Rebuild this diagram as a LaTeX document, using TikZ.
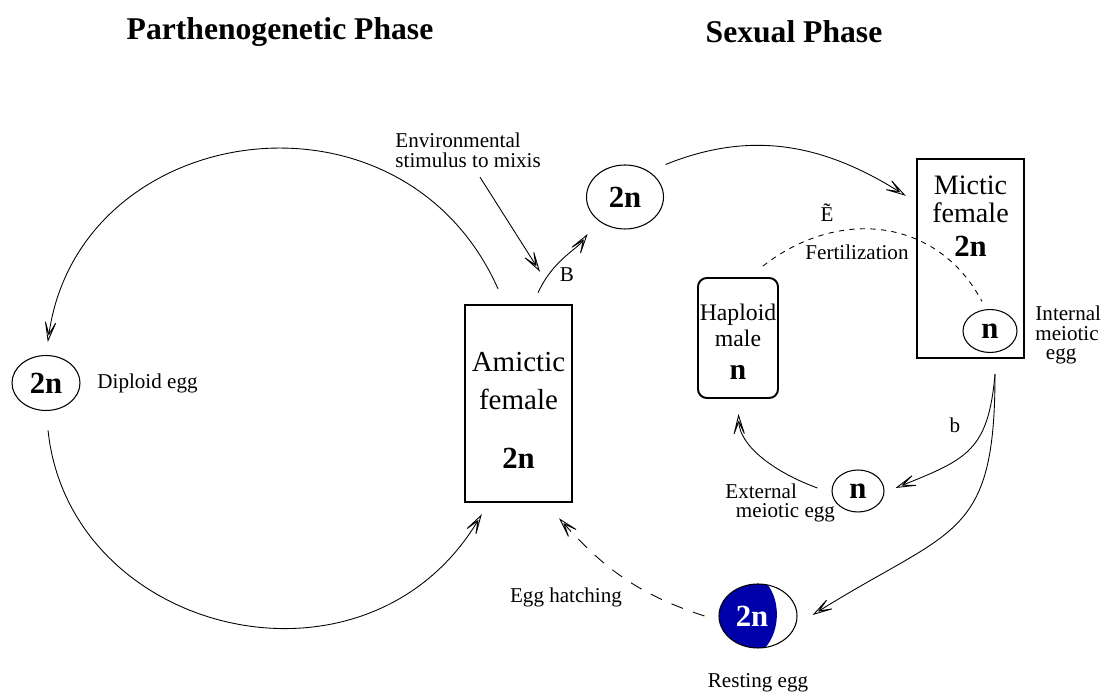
\documentclass[tikz,border=0pt]{standalone}
\usepackage{fontspec}
\setmainfont{Liberation Serif}
\usepackage{tikz}
\usetikzlibrary{arrows.meta,shapes.geometric}
\definecolor{eggblue}{RGB}{0,0,170}

\begin{document}
\begin{tikzpicture}[
		box style/.style={
			draw,
			line width=1.4pt,
			minimum width=2.14cm,
			minimum height=3.94cm,
			inner sep=0pt
		},
		egg style/.style={
			draw,
			ellipse,
			line width=0.6pt,
			inner sep=1pt,
			font=\fontsize{17.5}{20}\selectfont\bfseries
		},
		label style/.style={
			inner sep=0pt,
			align=left,
			font=\fontsize{12}{11.2}\selectfont
		},
		title style/.style={
			inner sep=0pt,
			font=\fontsize{18}{20}\selectfont\bfseries
		},
		>={Stealth[open,length=15pt,width=8.5pt,inset=10pt]},
		line width=0.5pt
		]

	\useasboundingbox (0,0) rectangle (22.04,13.86);

	\node[title style] (titlepart) at (5.60,13.22) {Parthenogenetic Phase};
	\node[title style] (titlesex) at (15.88,13.22) {Sexual Phase};

	\node[egg style, minimum width=1.36cm, minimum height=1.1cm] (diploid) at (0.92,6.20) {2n};
	\node[label style, anchor=west] (diplabel) at (1.94,6.20) {Diploid egg};

	\node[box style, align=center, font=\fontsize{16.5}{21.5}\selectfont] (amictic) at (10.37,5.79)
		{\rule{0pt}{19pt}Amictic\\female\\[12pt]\textbf{\fontsize{17.5}{20}\selectfont 2n}};

	\node[egg style, minimum width=1.54cm, minimum height=1.28cm] (mixis) at (12.50,9.92) {2n};

	\node[box style, minimum height=3.98cm] (mictic) at (19.41,8.69) {};
	\node[align=center, inner sep=0pt, font=\fontsize{16}{16}\selectfont] (mictictext) at (19.41,9.54)
		{Mictic\\female\\[3pt]\textbf{\fontsize{17.5}{20}\selectfont 2n}};

	\node[egg style, minimum width=1.08cm, minimum height=0.86cm] (internal) at (19.80,7.24) {n};
	\node[label style, anchor=west] (intlabel) at (20.70,7.16) {Internal\\meiotic\\\hspace*{0.5em}egg};

	\node[draw, rounded corners=5pt, line width=1.1pt, minimum width=1.6cm, minimum height=2.4cm,
		align=center, inner sep=0pt, font=\fontsize{13.5}{14.7}\selectfont] (haploid) at (14.76,7.10)
		{\rule{0pt}{14pt}Haploid\\male\\[4pt]\textbf{\fontsize{17}{20}\selectfont n}};

	\node[egg style, minimum width=1.04cm, minimum height=0.84cm] (external) at (17.16,4.04) {n};
	\node[label style, anchor=west] (extlabel) at (14.50,3.80) {External\\\hspace*{0.5em}meiotic egg};

	\begin{scope}
		\clip (15.16,1.54) ellipse (0.78 and 0.64);
		\fill[eggblue] (15.34,2.3) -- (15.34,2.18) .. controls (15.61,1.85) and (15.61,1.25) .. (15.30,0.90)
			-- (15.30,0.7) -- (14.2,0.7) -- (14.2,2.3) -- cycle;
	\end{scope}
	\node[egg style, minimum width=1.56cm, minimum height=1.28cm] (resting) at (15.16,1.54) {};
	\node[inner sep=0pt, text=white, font=\fontsize{17.5}{20}\selectfont\bfseries] (restingtext) at (15.04,1.54) {2n};
	\node[label style] (restlabel) at (15.16,0.20) {Resting egg};

	\node[label style, anchor=west] (envlabel) at (7.90,10.86) {Environmental\\stimulus to mixis};
	\node[label style] (labelB) at (11.34,8.36) {B};
	\node[label style] (labelb) at (19.10,5.36) {b};
	\node[label style] (etilde) at (16.54,9.60) {\~E};
	\node[label style] (fertlabel) at (17.14,8.82) {Fertilization};
	\node[label style] (hatchlabel) at (11.32,1.92) {Egg hatching};

	\draw[->, shorten >=0.26cm] ([xshift=-0.41cm,yshift=0.30cm]amictic.north) to[out=114, in=82, looseness=1.33] (diploid.north);
	\draw[->, shorten <=0.39cm] (diploid.south) to[out=276, in=239, looseness=1.29] ([xshift=0.36cm,yshift=-0.22cm]amictic.south west);
	\draw[->] ([xshift=1.70cm,yshift=-0.19cm]envlabel.south west) -- ([xshift=0.43cm,yshift=0.64cm]amictic.north);
	\draw[->, shorten >=0.34cm] ([xshift=0.39cm,yshift=0.22cm]amictic.north) to[out=65, in=235] (mixis.south west);
	\draw[->] ([xshift=0.26cm,yshift=0.19cm]mixis.north east) to[out=22, in=148] ([xshift=-0.20cm,yshift=-0.76cm]mictic.north west);
	\draw[->] ([xshift=0.49cm,yshift=-0.30cm]mictic.south) to[out=-95, in=22, looseness=1.3] ([xshift=0.22cm,yshift=0.06cm]external.east);
	\draw[->] ([xshift=0.49cm,yshift=-0.30cm]mictic.south) to[out=-90, in=32, looseness=1.4] ([xshift=0.30cm,yshift=0.02cm]resting.east);
	\draw[->, shorten >=0.3cm] ([xshift=-0.28cm,yshift=0.06cm]external.west) to[out=160, in=-88] (haploid.south);
	\draw[dash pattern=on 3pt off 3pt] ([xshift=0.50cm,yshift=0.22cm]haploid.north) to[out=38, in=118, looseness=1.1] ([xshift=-0.16cm,yshift=0.15cm]internal.north);
	\draw[->, dash pattern=on 7pt off 6pt] ([xshift=-0.28cm]resting.west) to[out=162, in=312] ([xshift=0.81cm,yshift=-0.30cm]amictic.south);

\end{tikzpicture}
\end{document}
